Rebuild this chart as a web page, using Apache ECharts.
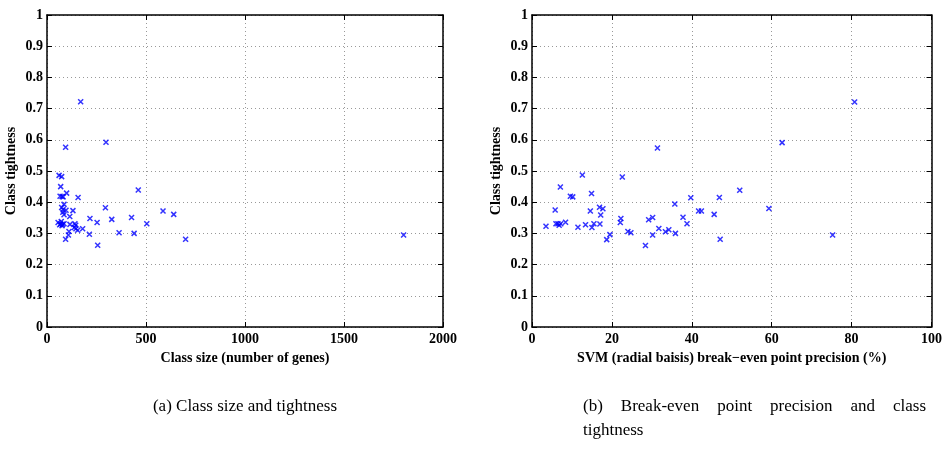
<!DOCTYPE html>
<html>
<head>
<meta charset="utf-8">
<script src="https://cdn.jsdelivr.net/npm/echarts@6/dist/echarts.min.js"></script>
<style>
  html, body { margin: 0; padding: 0; background: #fff; }
  #chart { width: 945px; height: 451px; }
</style>
</head>
<body>
<div id="chart"></div>
<script>
// (a) class size vs tightness
const classSize = [170, 298, 94, 61, 74, 69, 66, 76, 81, 99, 157, 461, 74, 86, 81, 96, 86, 80, 131, 295,
  115, 217, 327, 427, 586, 640, 56, 69, 79, 86, 76, 116, 141, 145, 138, 146, 155, 180, 253, 504,
  111, 108, 214, 364, 440, 94, 700, 256, 1801, 72, 64]
const tightnessA = [0.722, 0.592, 0.576, 0.486, 0.482, 0.450, 0.419, 0.418, 0.417, 0.429, 0.415, 0.439, 0.383, 0.393, 0.376, 0.374, 0.360, 0.368, 0.373, 0.382,
  0.354, 0.348, 0.345, 0.351, 0.372, 0.361, 0.335, 0.330, 0.329, 0.331, 0.325, 0.329, 0.331, 0.326, 0.319, 0.315, 0.310, 0.315, 0.335, 0.331,
  0.306, 0.295, 0.297, 0.302, 0.300, 0.281, 0.281, 0.262, 0.295, 0.338, 0.328]

// (b) break-even precision vs tightness
const precision = [3.5, 5.8, 6.0, 6.5, 6.8, 7.2, 7.1, 8.4, 9.6, 10.2, 11.5, 12.6, 13.4, 14.6, 14.9, 15.0, 15.5, 16.9, 17.75, 17.2,
  17.0, 18.7, 19.5, 22.6, 22.25, 22.1, 24.0, 24.75, 31.4, 28.4, 29.2, 30.2, 30.2, 31.75, 33.4, 34.25, 35.75, 35.9, 37.8, 38.8,
  39.75, 41.7, 42.4, 45.6, 46.9, 47.1, 80.75, 62.6, 52, 59.3, 75.25]
const tightnessB = [0.323, 0.375, 0.331, 0.331, 0.326, 0.331, 0.449, 0.336, 0.419, 0.417, 0.320, 0.487, 0.328, 0.372, 0.428, 0.319, 0.331, 0.384, 0.379, 0.359,
  0.330, 0.280, 0.296, 0.481, 0.348, 0.335, 0.306, 0.302, 0.574, 0.261, 0.344, 0.351, 0.295, 0.316, 0.305, 0.312, 0.394, 0.300, 0.352, 0.331,
  0.414, 0.372, 0.372, 0.361, 0.415, 0.281, 0.721, 0.591, 0.438, 0.380, 0.295]

const xNameA = 'Class size (number of genes)'
const xNameB = 'SVM (radial baisis) break\u2212even point precision (%)'
const yName = 'Class tightness'

const tickFont = { fontFamily: 'Liberation Serif', fontWeight: 'bold', fontSize: 14, color: '#000' }
const capFont = '17px "Liberation Serif"'
const cross = 'path://M0,0L10,10M0,10L10,0'

const chart = echarts.init(document.getElementById('chart'))

const mainX = (grid, max, interval, name) => ({
  type: 'value', gridIndex: grid, min: 0, max: max, interval: interval,
  name: name, nameLocation: 'middle', nameGap: 19,
  nameTextStyle: Object.assign({}, tickFont),
  axisLine: { onZero: false, lineStyle: { color: '#000', width: 1.5 } },
  axisTick: { inside: true, length: 5, lineStyle: { color: '#000' } },
  axisLabel: Object.assign({ margin: 5, formatter: (v) => String(v) }, tickFont),
  splitLine: { show: true, lineStyle: { color: '#999', type: [1, 3] } }
})
const mirrorX = (grid, max, interval) => ({
  type: 'value', gridIndex: grid, position: 'top', min: 0, max: max, interval: interval,
  axisLine: { onZero: false, lineStyle: { color: '#000', width: 1.5 } },
  axisTick: { inside: true, length: 5, lineStyle: { color: '#000' } },
  axisLabel: { show: false }, splitLine: { show: false }
})
const mainY = (grid) => ({
  type: 'value', gridIndex: grid, min: 0, max: 1, interval: 0.1,
  name: yName, nameLocation: 'middle', nameGap: 29, nameRotate: 90,
  nameTextStyle: Object.assign({}, tickFont),
  axisLine: { onZero: false, lineStyle: { color: '#000', width: 1.5 } },
  axisTick: { inside: true, length: 5, lineStyle: { color: '#000' } },
  axisLabel: Object.assign({ margin: 4 }, tickFont),
  splitLine: { show: true, lineStyle: { color: '#999', type: [1, 3] } }
})
const mirrorY = (grid) => ({
  type: 'value', gridIndex: grid, position: 'right', min: 0, max: 1, interval: 0.1,
  axisLine: { onZero: false, lineStyle: { color: '#000', width: 1.5 } },
  axisTick: { inside: true, length: 5, lineStyle: { color: '#000' } },
  axisLabel: { show: false }, splitLine: { show: false }
})

// justified first line of caption (b)
const ctx = document.createElement('canvas').getContext('2d')
ctx.font = capFont
const capWords = ['(b)', 'Break-even', 'point', 'precision', 'and', 'class']
const lineL = 583, lineR = 926
const wordsW = capWords.reduce((s, w) => s + ctx.measureText(w).width, 0)
const gap = (lineR - lineL - wordsW) / (capWords.length - 1)
let cx = lineL
const capText = capWords.map((w) => {
  const el = { type: 'text', x: cx, y: 398, style: { text: w, font: capFont, fill: '#000' } }
  cx += ctx.measureText(w).width + gap
  return el
})
capText.push({ type: 'text', x: lineL, y: 422, style: { text: 'tightness', font: capFont, fill: '#000' } })
capText.push({ type: 'text', x: 245, y: 398, style: { text: '(a) Class size and tightness', font: capFont, fill: '#000', align: 'center' } })

const options = {
  animation: false,
  backgroundColor: '#fff',
  grid: [
    { left: 47, top: 15, width: 396, height: 312 },
    { left: 532, top: 15, width: 400, height: 312 }
  ],
  xAxis: [mainX(0, 2000, 500, xNameA), mirrorX(0, 2000, 500), mainX(1, 100, 20, xNameB), mirrorX(1, 100, 20)],
  yAxis: [mainY(0), mirrorY(0), mainY(1), mirrorY(1)],
  graphic: capText,
  series: [{
    type: 'scatter', xAxisIndex: 0, yAxisIndex: 0,
    symbol: cross, symbolSize: 5,
    itemStyle: { color: 'none', borderColor: '#0000ff', borderWidth: 1.5 },
    data: classSize.map((v, i) => [v, tightnessA[i]])
  }, {
    type: 'scatter', xAxisIndex: 2, yAxisIndex: 2,
    symbol: cross, symbolSize: 5,
    itemStyle: { color: 'none', borderColor: '#0000ff', borderWidth: 1.5 },
    data: precision.map((v, i) => [v, tightnessB[i]])
  }]
}
chart.setOption(options, true)
</script>
</body>
</html>
